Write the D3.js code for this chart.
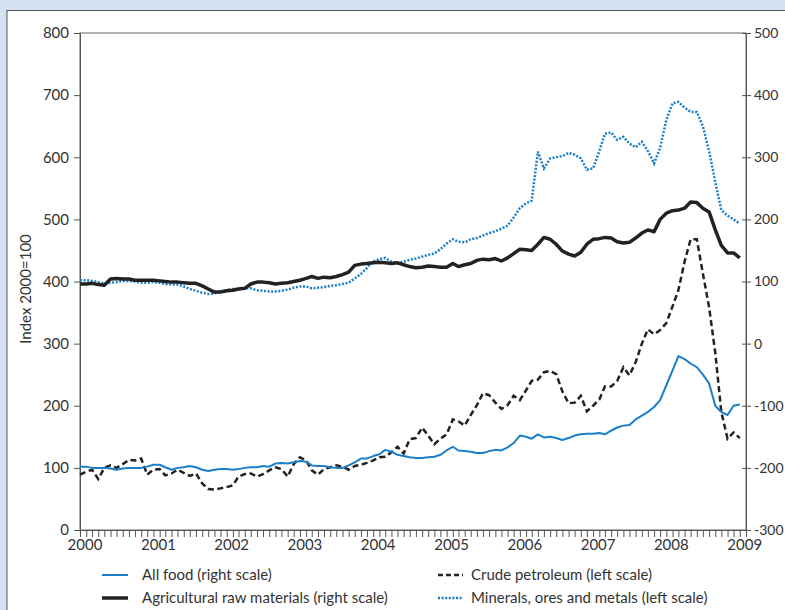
<!DOCTYPE html>
<html>
<head>
<meta charset="utf-8">
<script src="https://cdn.jsdelivr.net/npm/d3@7"></script>
<style>
  body { margin: 0; background: #d6e2f2; }
  svg { display: block; }
  text { font-family: Lato, "Noto Sans", sans-serif; fill: #333; }
</style>
</head>
<body>
<script>
// monthly, Jan 2000 .. Jan 2009
const start = new Date(2000, 0, 1)
const yearLabels = ['2000','2001','2002','2003','2004','2005','2006','2007','2008','2009']
const leftTicks = [0,100,200,300,400,500,600,700,800]
const rightTicks = [-300,-200,-100,0,100,200,300,400,500]

// right scale
const allFood = [
  -198,-198,-200,-200,-200,-201,-203,-201,-200,-200,-200,-198,
  -195,-195,-199,-203,-200,-199,-197,-199,-203,-205,-203,-202,
  -202,-203,-202,-200,-199,-199,-197,-198,-193,-192,-193,-191,
  -189,-190,-196,-197,-197,-199,-200,-200,-196,-191,-185,-185,
  -181,-178,-171,-174,-179,-181,-183,-184,-184,-183,-182,-179,
  -172,-166,-172,-173,-174,-176,-176,-173,-171,-172,-167,-160,
  -148,-150,-153,-146,-151,-150,-152,-155,-152,-148,-146,-145,
  -145,-144,-146,-140,-135,-132,-131,-122,-116,-110,-102,-91,
  -67,-43,-20,-25,-32,-38,-50,-64,-100,-110,-115,-100,
  -98
]
// right scale
const agriRaw = [
  96,96,97,95,94,104,105,104,104,102,102,102,
  102,101,100,99,99,98,97,97,93,88,83,83,
  85,86,88,89,96,99,99,98,96,97,98,100,
  102,105,108,105,107,106,108,111,115,126,128,129,
  130,131,130,129,130,127,124,122,123,125,124,123,
  123,129,124,127,129,134,136,135,137,133,138,145,
  152,151,150,160,171,168,160,149,144,141,147,160,
  168,169,171,170,164,162,163,170,178,183,180,200,
  210,214,215,218,228,227,218,212,183,158,146,146,
  138
]
// left scale
const crude = [
  89,94,97,82,100,104,100,106,113,112,115,89,
  97,98,88,91,97,92,87,91,75,66,65,67,
  69,72,86,90,91,86,90,96,101,98,86,106,
  117,112,96,89,98,101,104,102,97,103,105,108,
  112,117,118,125,134,123,146,148,165,152,138,147,
  154,178,175,168,185,201,220,217,205,195,201,216,
  209,225,240,242,254,256,251,223,204,205,216,191,
  200,210,231,231,240,262,249,270,300,323,315,322,
  333,360,386,432,468,468,413,359,285,190,147,157,
  148
]
// left scale
const minerals = [
  402,402,401,399,397,398,399,401,401,400,398,398,
  399,398,396,395,395,392,388,385,382,380,381,384,
  386,388,388,389,389,386,385,384,384,385,387,390,
  392,392,389,390,391,393,394,396,398,405,412,422,
  432,436,438,432,430,432,435,437,440,443,445,452,
  461,468,464,463,468,470,474,478,481,485,490,503,
  518,526,530,609,582,598,600,602,607,604,598,580,
  582,610,638,640,628,633,622,616,625,610,590,615,
  660,687,689,680,673,673,650,610,560,515,506,500,
  493
]

const width = 785
const height = 610
const m = {left: 80, right: 746, top: 33, bottom: 530}
const blue = '#1a7fc9'
const dark = '#222'

const svg = d3.select('body').append('svg')
  .attr('width', width)
  .attr('height', height)

// panel
svg.append('rect')
  .attr('x', 7).attr('y', 10.5)
  .attr('width', 800).attr('height', 620)
  .attr('fill', '#fff')
  .attr('stroke', '#555')

const months = allFood.map((d, i) => d3.timeMonth.offset(start, i))

const x = d3.scaleTime()
  .domain([start, d3.timeMonth.offset(start, 109)])
  .range([m.left, m.right])
const yL = d3.scaleLinear().domain([0, 800]).range([m.bottom, m.top])
const yR = d3.scaleLinear().domain([-300, 500]).range([m.bottom, m.top])

// frame
svg.append('rect')
  .attr('x', m.left).attr('y', m.top)
  .attr('width', m.right - m.left).attr('height', m.bottom - m.top)
  .attr('fill', 'none')
  .attr('stroke', '#666')

// left axis
const gl = svg.append('g').attr('transform', `translate(${m.left},0)`)
  .call(d3.axisLeft(yL).tickValues(leftTicks).tickSize(6).tickPadding(5))
gl.select('.domain').attr('stroke', '#555')
gl.selectAll('.tick line').attr('stroke', '#555')
gl.selectAll('text').style('font-size', '15px').attr('fill', '#333')

// right axis
const gr = svg.append('g').attr('transform', `translate(${m.right},0)`)
  .call(d3.axisRight(yR).tickValues(rightTicks).tickSize(5).tickPadding(3)
    .tickFormat(d => d))
gr.select('.domain').attr('stroke', '#555')
gr.selectAll('.tick line').attr('stroke', '#555').attr('x1', -4)
gr.selectAll('text').style('font-size', '14px').attr('fill', '#333')

// bottom axis: monthly ticks
const gb = svg.append('g').attr('transform', `translate(0,${m.bottom})`)
  .call(d3.axisBottom(x).ticks(d3.timeMonth.every(1)).tickSize(7).tickFormat(''))
gb.select('.domain').attr('stroke', '#555')
gb.selectAll('.tick line').attr('stroke', '#555')

svg.append('g').selectAll('text')
  .data(yearLabels)
  .join('text')
  .attr('x', d => x(new Date(+d, 0, 1)) + 5)
  .attr('y', 550)
  .attr('text-anchor', 'middle')
  .style('font-size', '15px')
  .text(d => d)

svg.append('text')
  .attr('transform', 'translate(31,289) rotate(-90)')
  .attr('text-anchor', 'middle')
  .style('font-size', '15px')
  .text('Index 2000=100')

// lines
const lineL = d3.line().x((d, i) => x(months[i])).y(d => yL(d))
const lineR = d3.line().x((d, i) => x(months[i])).y(d => yR(d))

svg.append('path').attr('d', lineL(minerals))
  .attr('fill', 'none').attr('stroke', blue)
  .attr('stroke-width', 2.5).attr('stroke-dasharray', '2,1.6')
svg.append('path').attr('d', lineR(agriRaw))
  .attr('fill', 'none').attr('stroke', dark)
  .attr('stroke-width', 3.5).attr('stroke-linejoin', 'round')
svg.append('path').attr('d', lineL(crude))
  .attr('fill', 'none').attr('stroke', dark)
  .attr('stroke-width', 2.5).attr('stroke-dasharray', '6,3.5')
svg.append('path').attr('d', lineR(allFood))
  .attr('fill', 'none').attr('stroke', blue)
  .attr('stroke-width', 2).attr('stroke-linejoin', 'round')

// legend
const legend = [
  {name: 'All food (right scale)', x: 102, y: 575, color: blue, w: 2, dash: null},
  {name: 'Agricultural raw materials (right scale)', x: 102, y: 598, color: dark, w: 3.5, dash: null},
  {name: 'Crude petroleum (left scale)', x: 438, y: 575, color: dark, w: 2.5, dash: '5,3'},
  {name: 'Minerals, ores and metals (left scale)', x: 438, y: 598, color: blue, w: 2.5, dash: '2,1.6'}
]
const lg = svg.append('g').selectAll('g').data(legend).join('g')
lg.append('line')
  .attr('x1', d => d.x).attr('x2', d => d.x + (d.dash ? 25 : 26))
  .attr('y1', d => d.y).attr('y2', d => d.y)
  .attr('stroke', d => d.color).attr('stroke-width', d => d.w)
  .attr('stroke-dasharray', d => d.dash)
lg.append('text')
  .attr('x', d => d.dash ? d.x + 33 : d.x + 40)
  .attr('y', d => d.y)
  .attr('dy', '0.35em')
  .style('font-size', '15px')
  .text(d => d.name)
</script>
</body>
</html>
